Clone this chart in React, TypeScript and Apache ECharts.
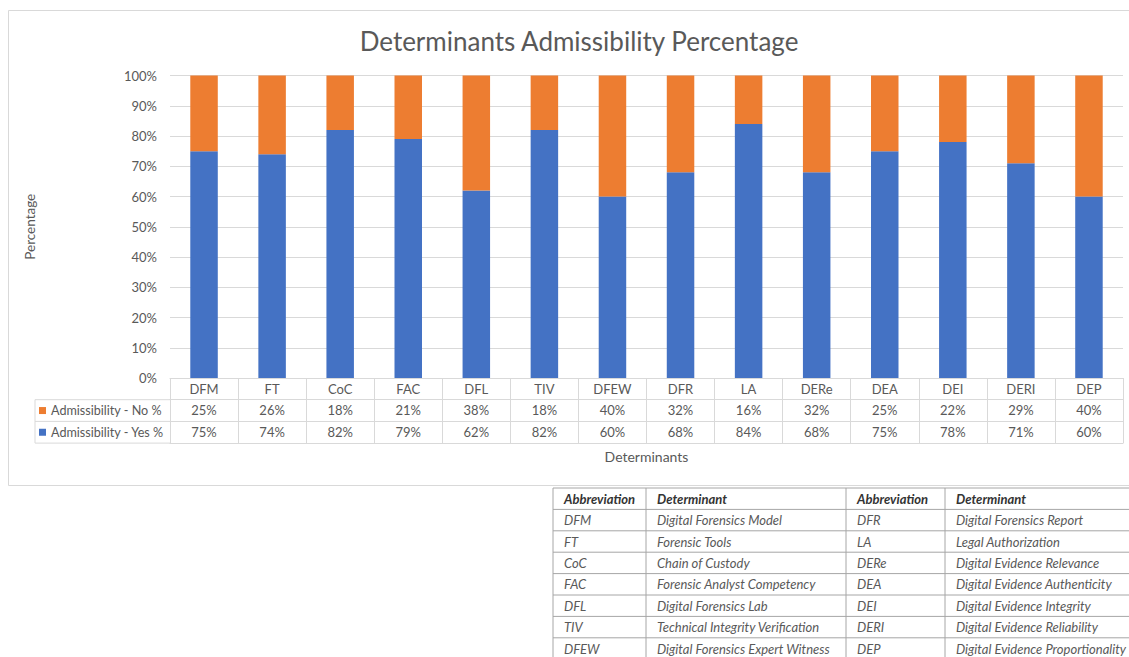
import React, { useEffect, useRef } from "react";
import * as echarts from "echarts";

const categories = ["DFM", "FT", "CoC", "FAC", "DFL", "TIV", "DFEW", "DFR", "LA", "DERe", "DEA", "DEI", "DERI", "DEP"];
const noPct = [25, 26, 18, 21, 38, 18, 40, 32, 16, 32, 25, 22, 29, 40];
const yesPct = [75, 74, 82, 79, 62, 82, 60, 68, 84, 68, 75, 78, 71, 60];
const seriesNames = ["Admissibility - No %", "Admissibility - Yes %"];
const titleText = "Determinants Admissibility Percentage";

const tableHeaders = ["Abbreviation", "Determinant", "Abbreviation", "Determinant"];
const abbrLeft = ["DFM", "FT", "CoC", "FAC", "DFL", "TIV", "DFEW"];
const nameLeft = [
  "Digital Forensics Model",
  "Forensic Tools",
  "Chain of Custody",
  "Forensic Analyst Competency",
  "Digital Forensics Lab",
  "Technical Integrity Verification",
  "Digital Forensics Expert Witness",
];
const abbrRight = ["DFR", "LA", "DERe", "DEA", "DEI", "DERI", "DEP"];
const nameRight = [
  "Digital Forensics Report",
  "Legal Authorization",
  "Digital Evidence Relevance",
  "Digital Evidence Authenticity",
  "Digital Evidence Integrity",
  "Digital Evidence Reliability",
  "Digital Evidence Proportionality",
];

const FONT = "Lato, 'Open Sans', sans-serif";
const GRAY = "#595959";
const LINE = "#d9d9d9";

export default function App() {
  const ref = useRef<HTMLDivElement>(null);

  useEffect(() => {
    if (!ref.current) return;
    const chart = echarts.init(ref.current, undefined, { renderer: "svg" });

    const gridTop = 75.5;
    const gridBottomY = 378;
    const gridLeft = 170;
    const gridRight = 1123;
    const rowH = 21.7;

    const graphics: any[] = [];
    // chart border
    graphics.push({
      type: "rect",
      z: -10,
      shape: { x: 8.5, y: 10.5, width: 1200, height: 475 },
      style: { fill: "none", stroke: LINE, lineWidth: 1 },
      silent: true,
    });
    // data-table legend column borders
    for (let k = 1; k <= 3; k++) {
      const y = gridBottomY + rowH * k;
      graphics.push({
        type: "line",
        shape: { x1: 35, y1: y, x2: gridLeft, y2: y },
        style: { stroke: LINE, lineWidth: 1 },
        silent: true,
      });
    }
    graphics.push({
      type: "line",
      shape: { x1: 35, y1: gridBottomY + rowH, x2: 35, y2: gridBottomY + rowH * 3 },
      style: { stroke: LINE, lineWidth: 1 },
      silent: true,
    });

    // abbreviation table
    const tTop = 488;
    const tRowH = 21.4;
    const colX = [553, 646, 846, 945, 1200];
    const tBorder = "#a6a6a6";
    const nRows = abbrLeft.length + 1;
    for (let r = 0; r <= nRows; r++) {
      const y = tTop + r * tRowH;
      graphics.push({
        type: "line",
        shape: { x1: colX[0], y1: y, x2: colX[4], y2: y },
        style: { stroke: tBorder, lineWidth: 1 },
        silent: true,
      });
    }
    for (let c = 0; c < 4; c++) {
      graphics.push({
        type: "line",
        shape: { x1: colX[c], y1: tTop, x2: colX[c], y2: tTop + nRows * tRowH },
        style: { stroke: tBorder, lineWidth: 1 },
        silent: true,
      });
    }
    const cellText = (txt: string, c: number, r: number, header: boolean) => ({
      type: "text",
      x: colX[c] + 11,
      y: tTop + r * tRowH + tRowH / 2,
      style: {
        text: txt,
        fill: header ? "#333333" : GRAY,
        fontFamily: FONT,
        fontSize: 13,
        fontStyle: "italic",
        fontWeight: header ? "bold" : "normal",
        verticalAlign: "middle",
        align: "left",
      },
      silent: true,
    });
    tableHeaders.forEach((h, c) => graphics.push(cellText(h, c, 0, true)));
    abbrLeft.forEach((t, i) => graphics.push(cellText(t, 0, i + 1, false)));
    nameLeft.forEach((t, i) => graphics.push(cellText(t, 1, i + 1, false)));
    abbrRight.forEach((t, i) => graphics.push(cellText(t, 2, i + 1, false)));
    nameRight.forEach((t, i) => graphics.push(cellText(t, 3, i + 1, false)));

    const labelStyle = { fontSize: 13, color: GRAY, fontFamily: FONT };

    const option: any = {
      animation: false,
      backgroundColor: "#ffffff",
      textStyle: { fontFamily: FONT },
      title: {
        text: titleText,
        left: 574,
        top: 23,
        textAlign: "center",
        textStyle: { fontSize: 26, fontWeight: "normal", color: GRAY, fontFamily: FONT },
      },
      legend: {
        orient: "vertical",
        left: 39,
        top: gridBottomY + rowH + (rowH - 15) / 2,
        padding: 0,
        itemWidth: 7,
        itemHeight: 7,
        itemGap: rowH - 15,
        icon: "rect",
        selectedMode: false,
        data: seriesNames,
        textStyle: { fontSize: 12.6, color: GRAY, fontFamily: FONT, lineHeight: 15 },
      },
      grid: {
        left: gridLeft,
        right: 1129 - gridRight,
        top: gridTop,
        bottom: 657 - gridBottomY,
        containLabel: false,
      },
      xAxis: [
        {
          type: "category",
          data: categories,
          position: "bottom",
          axisLine: { show: true, lineStyle: { color: LINE } },
          axisTick: { show: true, length: rowH * 3, alignWithLabel: false, interval: 0, lineStyle: { color: LINE } },
          axisLabel: { interval: 0, margin: 4, ...labelStyle },
        },
        {
          type: "category",
          data: noPct.map((v) => v + "%"),
          position: "bottom",
          offset: rowH,
          axisLine: { show: true, lineStyle: { color: LINE } },
          axisTick: { show: false },
          axisLabel: { interval: 0, margin: 4, ...labelStyle },
        },
        {
          type: "category",
          data: yesPct.map((v) => v + "%"),
          position: "bottom",
          offset: rowH * 2,
          axisLine: { show: true, lineStyle: { color: LINE } },
          axisTick: { show: false },
          axisLabel: { interval: 0, margin: 4, ...labelStyle },
        },
        {
          type: "category",
          data: categories,
          position: "bottom",
          offset: rowH * 3,
          axisLine: { show: true, lineStyle: { color: LINE } },
          axisTick: { show: false },
          axisLabel: { show: false },
          name: "Determinants",
          nameLocation: "middle",
          nameGap: 6,
          nameTextStyle: { fontSize: 14, color: GRAY, fontFamily: FONT },
        },
      ],
      yAxis: {
        type: "value",
        min: 0,
        max: 100,
        interval: 10,
        axisLine: { show: false },
        axisTick: { show: false },
        axisLabel: { formatter: "{value}%", margin: 13, ...labelStyle },
        splitLine: { lineStyle: { color: LINE } },
        name: "Percentage",
        nameLocation: "middle",
        nameGap: 133,
        nameRotate: 90,
        nameTextStyle: { fontSize: 13.5, color: GRAY, fontFamily: FONT },
      },
      series: [
        {
          name: seriesNames[1],
          type: "bar",
          stack: "total",
          xAxisIndex: 0,
          barWidth: 27.5,
          itemStyle: { color: "#4472c4" },
          data: yesPct,
        },
        {
          name: seriesNames[0],
          type: "bar",
          stack: "total",
          xAxisIndex: 0,
          barWidth: 27.5,
          itemStyle: { color: "#ed7d31" },
          data: noPct,
        },
      ],
      graphic: graphics,
    };

    chart.setOption(option);
    return () => chart.dispose();
  }, []);

  return (
    <div
      ref={ref}
      style={{ position: "fixed", left: 0, top: 0, width: 1129, height: 657, background: "#fff" }}
    />
  );
}
